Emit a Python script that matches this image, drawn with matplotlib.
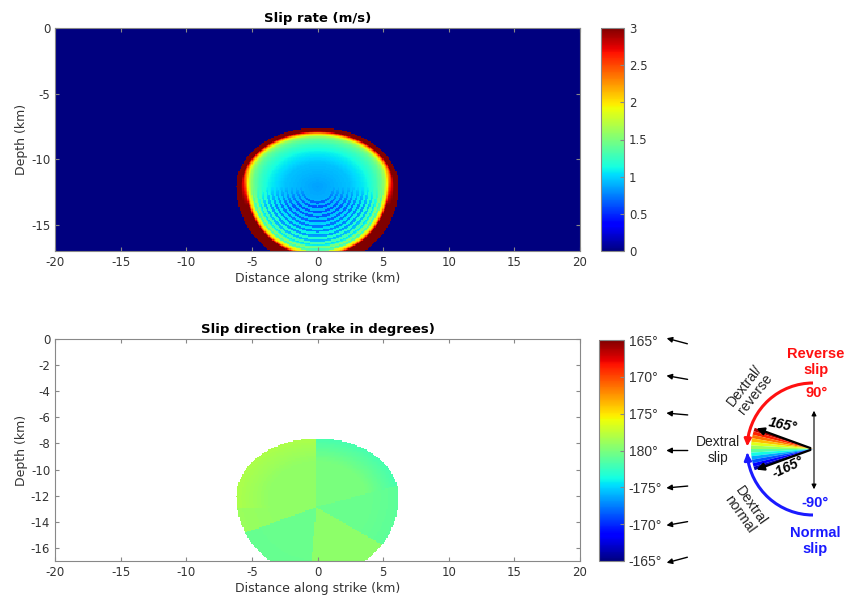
import numpy as np
import matplotlib
matplotlib.use('Agg')
import matplotlib.pyplot as plt
from matplotlib.patches import Wedge, Arc, FancyArrowPatch

W, H = 849, 605

# rupture outline (km)
x0, z0 = 0.0, -12.1
half_w, half_up, half_down = 6.2, 4.5, 6.1

# slip rate along normalised radius (m/s): upper part and lower part of the rupture
rate_rho = [0.0, 0.4, 0.6, 0.72, 0.8, 0.85, 0.88, 0.91, 0.94, 1.0]
rate_up = [0.85, 0.95, 1.1, 1.25, 1.4, 1.6, 1.9, 2.3, 3.0, 3.0]
rate_low = [0.85, 0.95, 1.1, 1.3, 1.6, 2.1, 3.0, 3.0, 3.0, 3.0]
ring_rho = [0.2, 0.26, 0.32, 0.38, 0.44, 0.5, 0.56, 0.62, 0.68, 0.74, 0.8]
ring_dip = 0.3

# rake (deg, 180 = pure dextral) in sectors around the hypocentre
hypo_x, hypo_z = -0.1, -12.9
sector_edges = [-180, -160, -95, -30, 15, 90, 180]
sector_rake = [179.2, 180.6, 179.4, 180.6, 180.1, 179.2]
rim_shift = [-0.3, 0.2, 0.0, 0.5, 1.8, -1.0]

rate_ticks = [0, 0.5, 1, 1.5, 2, 2.5, 3]
rate_labels = ['0', '0.5', '1', '1.5', '2', '2.5', '3']
rake_ticks = [165, 170, 175, 180, 185, 190, 195]
rake_labels = ['165°', '170°', '175°', '180°', '-175°', '-170°', '-165°']

x = np.arange(-20, 20.001, 0.1)
z = np.arange(-17, 0.001, 0.1)
X, Z = np.meshgrid(x, z)
dz = Z - z0
hz = np.where(dz > 0, half_up, half_down)
rho = np.sqrt(((X - x0) / half_w) ** 2 + (dz / hz) ** 2)
inside = rho <= 1

w_low = np.clip(0.5 - dz / 3, 0, 1)
rate = (1 - w_low) * np.interp(rho, rate_rho, rate_up) + w_low * np.interp(rho, rate_rho, rate_low)
taper = np.clip(-dz / 1.5, 0, 1)
for r in ring_rho:
    band = np.abs(rho - r) < 0.014
    rate[band] -= ring_dip * taper[band]
rate[~inside] = 0

ang = np.degrees(np.arctan2(Z - hypo_z, X - hypo_x))
idx = np.clip(np.searchsorted(sector_edges, ang, side='right') - 1, 0, len(sector_rake) - 1)
rake = np.array(sector_rake)[idx] + np.array(rim_shift)[idx] * np.clip((rho - 0.6) / 0.4, 0, 1)
rake = np.where(inside, rake, np.nan)

txt = '#333333'
plt.rcParams['font.family'] = ['DejaVu Sans']
plt.rcParams['axes.unicode_minus'] = False
plt.rcParams['axes.edgecolor'] = '#888888'

fig = plt.figure(figsize=(W / 100, H / 100), dpi=100)


def style(ax, yt):
    ax.set_xlim(-20, 20)
    ax.set_ylim(-17, 0)
    ax.set_xticks(range(-20, 21, 5))
    ax.set_yticks(yt)
    ax.tick_params(direction='in', top=True, right=True, labelsize=8.5,
                   labelcolor=txt, color='#888888', length=3)
    ax.set_xlabel('Distance along strike (km)', fontsize=9, color=txt, labelpad=2)
    ax.set_ylabel('Depth (km)', fontsize=9, color=txt, labelpad=2)


# top panel: slip rate
ax1 = fig.add_axes([55 / W, 1 - 251 / H, 525 / W, 223 / H])
im1 = ax1.imshow(rate, extent=[-20, 20, -17, 0], origin='lower', aspect='auto',
                 cmap='jet', vmin=0, vmax=3, interpolation='nearest')
style(ax1, [0, -5, -10, -15])
ax1.set_title('Slip rate (m/s)', fontsize=9.5, fontweight='bold', pad=4)
cax1 = fig.add_axes([601 / W, 1 - 251 / H, 23 / W, 223 / H])
cb1 = fig.colorbar(im1, cax=cax1, ticks=rate_ticks)
cb1.ax.set_yticklabels(rate_labels)
cb1.ax.tick_params(labelsize=8.5, labelcolor=txt, direction='in', length=3, color='#888888')
cb1.outline.set_edgecolor('#888888')

# bottom panel: rake
ax2 = fig.add_axes([55 / W, 1 - 561 / H, 525 / W, 222 / H])
cmap2 = plt.get_cmap('jet_r').copy()
cmap2.set_bad('white')
im2 = ax2.imshow(rake, extent=[-20, 20, -17, 0], origin='lower', aspect='auto',
                 cmap=cmap2, vmin=165, vmax=195, interpolation='nearest')
style(ax2, list(range(0, -17, -2)))
ax2.set_title('Slip direction (rake in degrees)', fontsize=9.5, fontweight='bold', pad=4)
cax2 = fig.add_axes([599 / W, 1 - 561 / H, 25 / W, 221 / H])
cb2 = fig.colorbar(im2, cax=cax2, ticks=rake_ticks)
cb2.ax.set_yticklabels(rake_labels, family='Liberation Sans')
cb2.ax.invert_yaxis()
cb2.ax.tick_params(labelsize=10, labelcolor=txt, direction='in', length=3, color='#888888')
cb2.outline.set_edgecolor('#888888')

# overlay in pixel units (y up) for arrows and the rake diagram
ov = fig.add_axes([0, 0, 1, 1])
ov.set_xlim(0, W)
ov.set_ylim(0, H)
ov.axis('off')
ov.patch.set_alpha(0)

for v in rake_ticks:
    yu = H - (341 + (v - 165) / 30 * 219)
    c, s = np.cos(np.radians(v)), np.sin(np.radians(v))
    L = 27
    ov.annotate('', xy=(677 + L / 2 * c, yu + L / 2 * s), xytext=(677 - L / 2 * c, yu - L / 2 * s),
                arrowprops=dict(arrowstyle='-|>', color='k', lw=1, mutation_scale=8))

cx, cy, R = 813, H - 449, 66
red, blue = '#ff1010', '#1a1aff'
ov.add_patch(Arc((cx, cy), 2 * R, 2 * R, theta1=90, theta2=174, color=red, lw=2.2))
ov.add_patch(Arc((cx, cy), 2 * R, 2 * R, theta1=186, theta2=270, color=blue, lw=2.2))


def on_arc(a, r=R):
    return (cx + r * np.cos(np.radians(a)), cy + r * np.sin(np.radians(a)))


ov.add_patch(FancyArrowPatch(on_arc(172), on_arc(180), arrowstyle='-|>', color=red,
                             lw=2, mutation_scale=10))
ov.add_patch(FancyArrowPatch(on_arc(188), on_arc(181), arrowstyle='-|>', color=blue,
                             lw=2, mutation_scale=10))

# schematic fan drawn a little wider than +-15 deg, as in the original sketch
fan = 20
n = 12
for k in range(n):
    a1 = 180 - fan + k * 2 * fan / n
    ov.add_patch(Wedge((cx, cy), 62, a1, a1 + 2 * fan / n,
                       color=plt.get_cmap('jet_r')((k + 0.5) / n), lw=0))
for a in (180 - fan, 180 + fan):
    ov.add_patch(FancyArrowPatch((cx, cy), on_arc(a, 63), arrowstyle='-|>', color='k',
                                 lw=1.6, mutation_scale=11))
ov.add_patch(FancyArrowPatch((cx + 1, H - 408), (cx + 1, H - 492), arrowstyle='<|-|>',
                             color='k', lw=0.8, mutation_scale=7))

dfont = dict(family='Liberation Sans', ha='center', va='center')
ov.text(816, H - 362, 'Reverse\nslip', color=red, fontsize=10.5, fontweight='bold',
        linespacing=1.15, **dfont)
ov.text(817, H - 393, '90°', color=red, fontsize=10.5, fontweight='bold', **dfont)
ov.text(815, H - 503, '-90°', color=blue, fontsize=10.5, fontweight='bold', **dfont)
ov.text(815, H - 541, 'Normal\nslip', color=blue, fontsize=10.5, fontweight='bold',
        linespacing=1.15, **dfont)
ov.text(783, H - 425, '165°', color='k', fontsize=10, fontweight='bold', style='italic',
        rotation=-12, **dfont)
ov.text(788, H - 467, '-165°', color='k', fontsize=10, fontweight='bold', style='italic',
        rotation=25, **dfont)
ov.text(718, H - 450, 'Dextral\nslip', color='#222222', fontsize=10, linespacing=1.1, **dfont)
ov.text(750, H - 390, 'Dextral/\nreverse', color='#222222', fontsize=10, linespacing=1.0,
        rotation=52, **dfont)
ov.text(745, H - 510, 'Dextral\nnormal', color='#222222', fontsize=10, linespacing=1.0,
        rotation=-55, **dfont)

fig.savefig('out.png', dpi=100)
